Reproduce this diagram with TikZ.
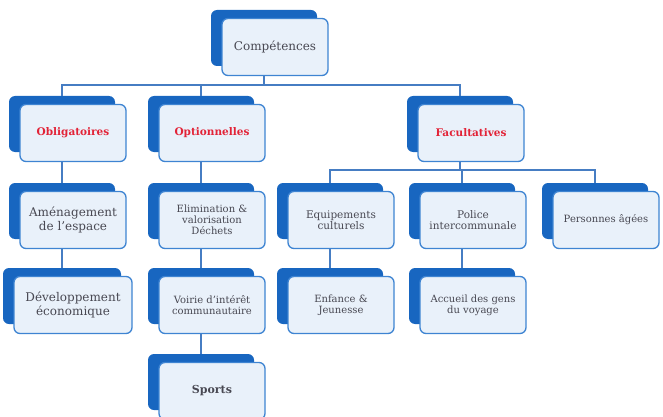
\documentclass[tikz,border=0pt]{standalone}
\usepackage{fontspec}
\setmainfont{DejaVu Serif}
\usetikzlibrary{calc}

\definecolor{backblue}{RGB}{24,102,192}
\definecolor{edgeblue}{RGB}{62,132,210}
\definecolor{paneblue}{RGB}{233,241,250}
\definecolor{linkblue}{RGB}{70,125,195}
\definecolor{labelgray}{RGB}{72,72,82}
\definecolor{labelred}{RGB}{226,35,55}

\tikzset{
  backcard/.style={fill=backblue, rounded corners=6pt, minimum width=106pt,
    minimum height=56pt, inner sep=0pt},
  frontcard/.style={draw=edgeblue, line width=1.3pt, fill=paneblue, rounded corners=6pt,
    minimum width=106pt, minimum height=57pt, inner sep=2pt, align=center,
    text=labelgray, font=\fontsize{10.5}{11.5}\selectfont},
  headtext/.style={text=labelred, font=\bfseries\fontsize{10.5}{12}\selectfont},
  bigtext/.style={font=\fontsize{12}{13.5}\selectfont},
  smalltext/.style={font=\fontsize{10}{11}\selectfont},
  link/.style={draw=linkblue, line width=1.4pt},
}

\begin{document}
\begin{tikzpicture}[x=1pt,y=-1pt]
    \useasboundingbox (0,0) rectangle (663,417);

    %%%% Top %%%%%%%%%%%%%%%%%%%%%%%%%%%%%%%%%%%%%%%%%%%%%%%%%%%%%%%%%%%%%%%%
    \node[backcard] (compB) at (264,38) {};
    \node[frontcard,bigtext] (comp) at ($(compB)+(11,9)$) {Compétences};

    %%%% Second row %%%%%%%%%%%%%%%%%%%%%%%%%%%%%%%%%%%%%%%%%%%%%%%%%%%%%%%%%
    \node[backcard] (obligB) at (62,124) {};
    \node[frontcard,headtext] (oblig) at ($(obligB)+(11,9)$) {Obligatoires};
    \node[backcard] (optB) at (201,124) {};
    \node[frontcard,headtext] (opt) at ($(optB)+(11,9)$) {Optionnelles};
    \node[backcard] (facB) at (460,124) {};
    \node[frontcard,headtext] (fac) at ($(facB)+(11,9)$) {Facultatives};

    %%%% Third row %%%%%%%%%%%%%%%%%%%%%%%%%%%%%%%%%%%%%%%%%%%%%%%%%%%%%%%%%%
    \node[backcard] (amenB) at (62,211) {};
    \node[frontcard,bigtext] (amen) at ($(amenB)+(11,9)$) {Aménagement\\de l’espace};
    \node[backcard] (elimB) at (201,211) {};
    \node[frontcard,smalltext] (elim) at ($(elimB)+(11,9)$) {Elimination \&\\valorisation\\Déchets};
    \node[backcard] (equipB) at (330,211) {};
    \node[frontcard] (equip) at ($(equipB)+(11,9)$) {Equipements\\culturels};
    \node[backcard] (policeB) at (462,211) {};
    \node[frontcard] (police) at ($(policeB)+(11,9)$) {Police\\intercommunale};
    \node[backcard] (persB) at (595,211) {};
    \node[frontcard,smalltext] (pers) at ($(persB)+(11,9)$) {Personnes âgées};

    %%%% Fourth row %%%%%%%%%%%%%%%%%%%%%%%%%%%%%%%%%%%%%%%%%%%%%%%%%%%%%%%%%
    \node[backcard,minimum width=118pt] (devB) at (62,296) {};
    \node[frontcard,bigtext,minimum width=118pt] (dev) at ($(devB)+(11,9)$) {Développement\\économique};
    \node[backcard] (voirieB) at (201,296) {};
    \node[frontcard,smalltext] (voirie) at ($(voirieB)+(11,9)$) {Voirie d’intérêt\\communautaire};
    \node[backcard] (enfB) at (330,296) {};
    \node[frontcard,smalltext] (enf) at ($(enfB)+(11,9)$) {Enfance \&\\Jeunesse};
    \node[backcard] (accB) at (462,296) {};
    \node[frontcard,smalltext] (acc) at ($(accB)+(11,9)$) {Accueil des gens\\du voyage};

    %%%% Bottom %%%%%%%%%%%%%%%%%%%%%%%%%%%%%%%%%%%%%%%%%%%%%%%%%%%%%%%%%%%%%
    \node[backcard] (sportsB) at (201,382) {};
    \node[frontcard,font=\bfseries\fontsize{11}{12}\selectfont] (sports) at ($(sportsB)+(11,9)$) {Sports};

    %%%% Links %%%%%%%%%%%%%%%%%%%%%%%%%%%%%%%%%%%%%%%%%%%%%%%%%%%%%%%%%%%%%%
    \coordinate (busA) at (264,85);
    \coordinate (busB) at (460,170);
    \draw[link] (comp.south -| compB) -- (busA);
    \draw[link] (busA) -| (obligB.north);
    \draw[link] (busA) -| (optB.north);
    \draw[link] (busA) -| (facB.north);

    \draw[link] (fac.south -| facB) -- (busB);
    \draw[link] (busB) -| (equipB.north);
    \draw[link] (busB) -| (policeB.north);
    \draw[link] (busB) -| (persB.north);

    \draw[link] (oblig.south -| obligB) -- (amenB.north);
    \draw[link] (amen.south -| amenB) -- (devB.north);
    \draw[link] (opt.south -| optB) -- (elimB.north);
    \draw[link] (elim.south -| elimB) -- (voirieB.north);
    \draw[link] (voirie.south -| voirieB) -- (sportsB.north);
    \draw[link] (equip.south -| equipB) -- (enfB.north);
    \draw[link] (police.south -| policeB) -- (accB.north);
\end{tikzpicture}
\end{document}
